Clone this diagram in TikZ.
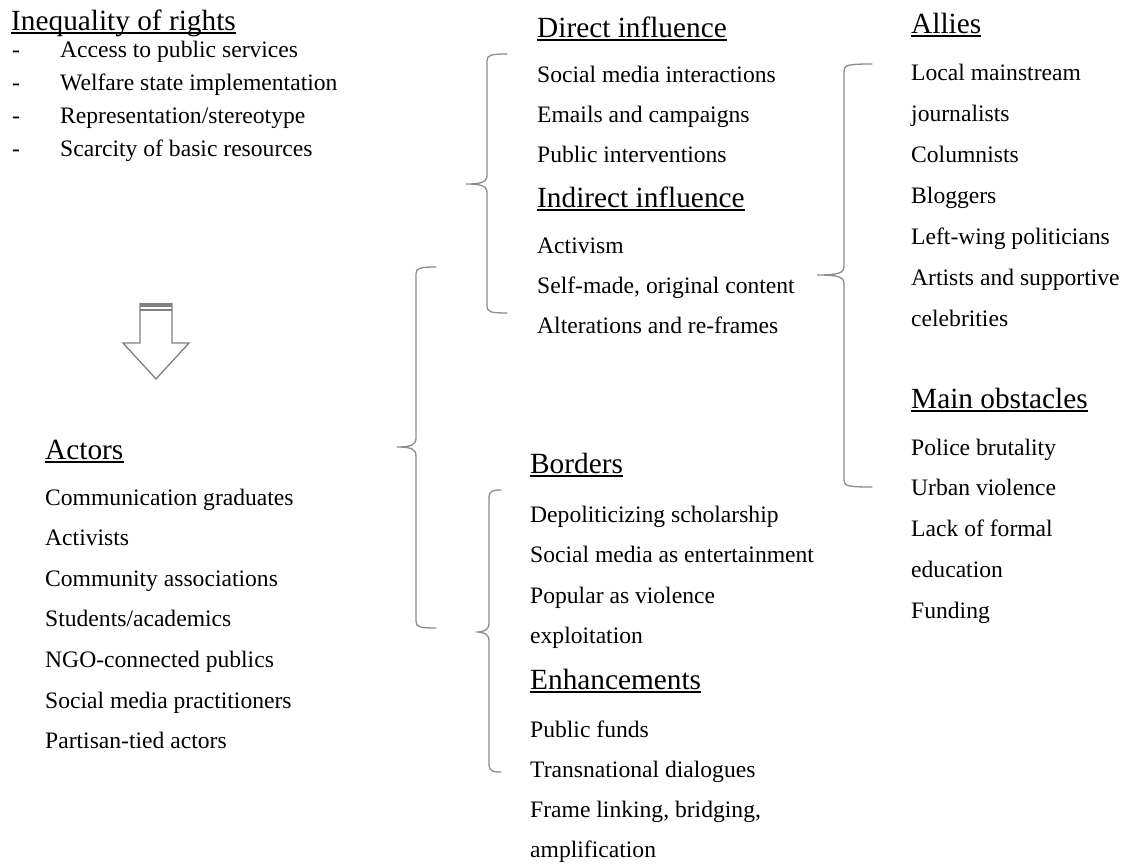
\documentclass[tikz,border=0pt]{standalone}
\usepackage{fontspec}
\setmainfont{Liberation Serif}
\definecolor{braceGray}{HTML}{8C8C8C}
\definecolor{arrowGray}{HTML}{808080}
% curly brace opening to the left: end x, line x, tip x, top y, tip y, bottom y
\newcommand{\drawbrace}[6]{%
  \draw[brace] (#1,#4) .. controls ({#2+4},#4) and (#2,{#4+1}) .. (#2,{#4+7})
    -- (#2,{#5-9}) .. controls (#2,{#5-2}) and ({#2-5},#5) .. (#3,#5)
    .. controls ({#2-5},#5) and (#2,{#5+2}) .. (#2,{#5+9})
    -- (#2,{#6-7}) .. controls (#2,{#6-1}) and ({#2+4},#6) .. (#1,#6);}
\begin{document}
\begin{tikzpicture}[x=1pt,y=-1pt,
  txt/.style={anchor=base west, inner sep=0pt, font=\fontsize{23.6}{28}\selectfont},
  head/.style={anchor=base west, inner sep=0pt, font=\fontsize{29.3}{34}\selectfont},
  uline/.style={line width=1.5pt, black},
  brace/.style={draw=braceGray, line width=1.3pt, line cap=round},
  ]
\useasboundingbox[fill=white] (0,0) rectangle (1128,865);

% ---- inequality of rights ----
\node[head] (ineq) at (11,30) {Inequality of rights};
\draw[uline] ([yshift=-3pt]ineq.base west) -- ([yshift=-3pt]ineq.base east);
\foreach \t [count=\i from 0] in {Access to public services, Welfare state implementation,
  Representation/stereotype, Scarcity of basic resources} {
  \node[txt] (dash\i) at (12,{57+33*\i}) {-};
  \node[txt] (ineq\i) at (60,{57+33*\i}) {\t};
}

% ---- block arrow ----
\fill[arrowGray] (140,303) rectangle (172,306.5);
\draw[arrowGray, line width=1.2pt] (140,310) -- (172,310);
\draw[arrowGray, line width=1.3pt, line join=miter]
  (140,303) -- (140,343) -- (123,343) -- (156,379) -- (189,343) -- (172,343) -- (172,303);

% ---- actors ----
\node[head] (actors) at (45,459) {Actors};
\draw[uline] ([yshift=-3pt]actors.base west) -- ([yshift=-3pt]actors.base east);
\foreach \t [count=\i from 0] in {Communication graduates, Activists, Community associations,
  Students/academics, NGO-connected publics, Social media practitioners, Partisan-tied actors} {
  \node[txt] (act\i) at (45,{505+40.6*\i}) {\t};
}

% ---- direct / indirect influence ----
\node[head] (direct) at (537,37) {Direct influence};
\draw[uline] ([yshift=-3pt]direct.base west) -- ([yshift=-3pt]direct.base east);
\foreach \t [count=\i from 0] in {Social media interactions, Emails and campaigns, Public interventions} {
  \node[txt] (dir\i) at (537,{82+40.3*\i}) {\t};
}
\node[head] (indirect) at (537,207) {Indirect influence};
\draw[uline] ([yshift=-3pt]indirect.base west) -- ([yshift=-3pt]indirect.base east);
\foreach \t [count=\i from 0] in {Activism, {Self-made, original content}, Alterations and re-frames} {
  \node[txt] (ind\i) at (537,{253+40.3*\i}) {\t};
}

% ---- borders / enhancements ----
\node[head] (borders) at (530,473) {Borders};
\draw[uline] ([yshift=-3pt]borders.base west) -- ([yshift=-3pt]borders.base east);
\foreach \t [count=\i from 0] in {Depoliticizing scholarship, Social media as entertainment,
  Popular as violence, exploitation} {
  \node[txt] (bor\i) at (530,{522+40.5*\i}) {\t};
}
\node[head] (enh) at (530,689) {Enhancements};
\draw[uline] ([yshift=-3pt]enh.base west) -- ([yshift=-3pt]enh.base east);
\foreach \t [count=\i from 0] in {Public funds, Transnational dialogues,
  {Frame linking, bridging,}, amplification} {
  \node[txt] (enh\i) at (530,{737+40*\i}) {\t};
}

% ---- allies / main obstacles ----
\node[head] (allies) at (911,33) {Allies};
\draw[uline] ([yshift=-3pt]allies.base west) -- ([yshift=-3pt]allies.base east);
\foreach \t [count=\i from 0] in {Local mainstream, journalists, Columnists, Bloggers,
  Left-wing politicians, Artists and supportive, celebrities} {
  \node[txt] (all\i) at (911,{80+41*\i}) {\t};
}
\node[head] (obst) at (911,408) {Main obstacles};
\draw[uline] ([yshift=-3pt]obst.base west) -- ([yshift=-3pt]obst.base east);
\foreach \t [count=\i from 0] in {Police brutality, Urban violence, Lack of formal, education, Funding} {
  \node[txt] (obs\i) at (911,{455+40.8*\i}) {\t};
}

% ---- braces ----
\drawbrace{507}{487}{466}{54}{184}{313}
\drawbrace{436}{416}{397}{267}{447}{628}
\drawbrace{501}{489}{476}{490}{632}{772}
\drawbrace{872}{844}{817}{64}{275}{487}
\end{tikzpicture}
\end{document}
